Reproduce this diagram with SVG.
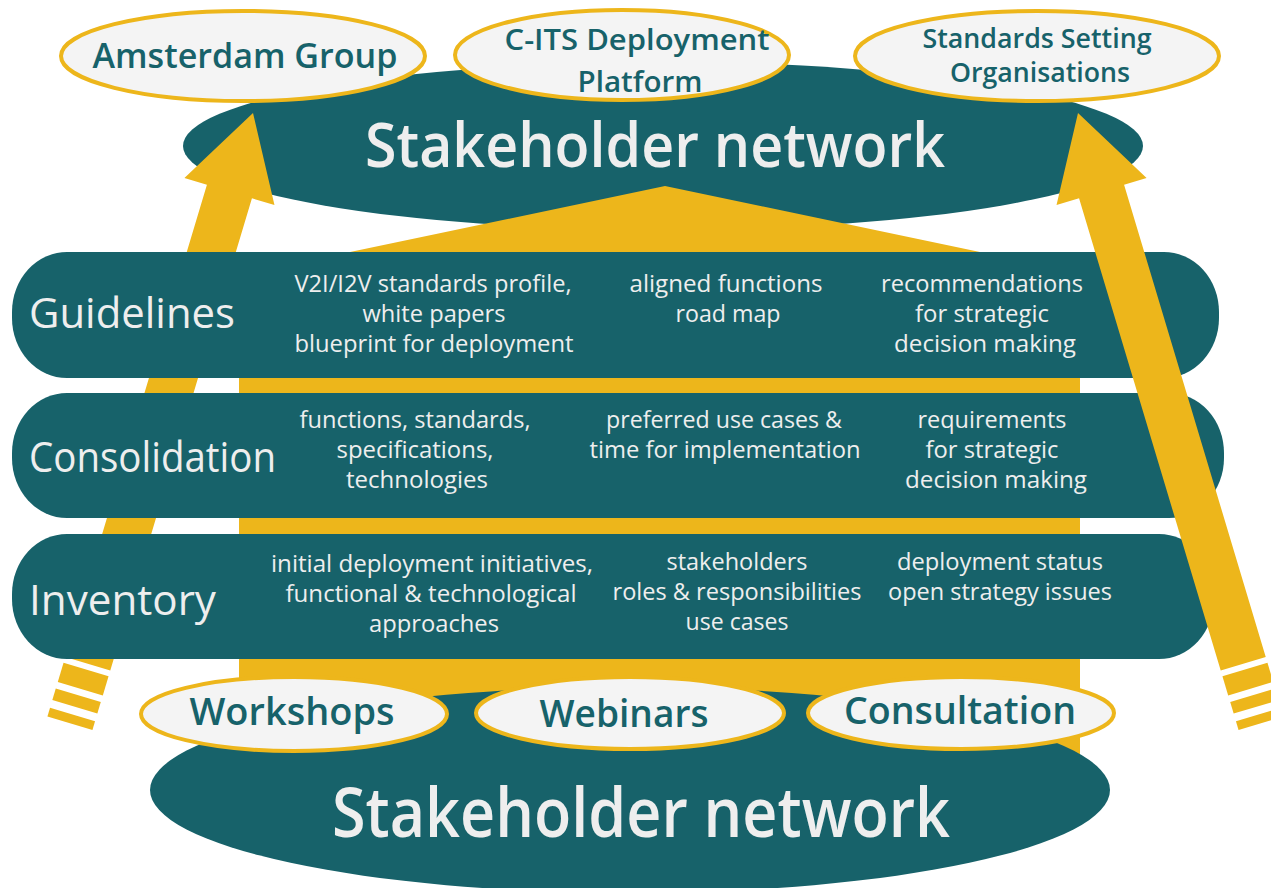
<svg xmlns="http://www.w3.org/2000/svg" xmlns:xlink="http://www.w3.org/1999/xlink" width="1271" height="888" viewBox="0 0 1271 888">
<style>
.teal{fill:#17626A}
.yel{fill:#EDB61B}
.pill{fill:#F4F4F4;stroke:#EDB61B;stroke-width:4}
.lbl{font-family:"Open Sans","Noto Sans","DejaVu Sans",sans-serif;font-weight:600;fill:#17626A;text-anchor:middle}
.big{font-family:"Open Sans","Noto Sans","DejaVu Sans",sans-serif;font-weight:600;fill:#EEEEEE;text-anchor:middle}
.band{font-family:"Open Sans","Noto Sans","DejaVu Sans",sans-serif;font-weight:400;fill:#EEEEEE;font-size:42px}
.txt{font-family:"Open Sans","Noto Sans","DejaVu Sans",sans-serif;font-weight:400;fill:#EEEEEE;font-size:23px;text-anchor:middle}
</style>
<defs>
<g id="bigArrow">
<path d="M0,0 L47,82 L23.5,82 L23.5,575 L-23.5,575 L-23.5,82 L-47,82 Z"/>
<rect x="-23.5" y="581" width="47" height="20"/>
<rect x="-23.5" y="608" width="47" height="12"/>
<rect x="-23.5" y="628" width="47" height="9"/>
</g>
</defs>
<rect width="1271" height="888" fill="#FFFFFF"/>

<g id="top-network">
<ellipse class="teal" cx="663" cy="146" rx="480" ry="84"/>
</g>

<g id="connectors">
<polygon id="center-arrow" class="yel" points="665,186 1123,282 1080,282 1080,765 239,765 239,282 207,282"/>
<use id="left-arrow" class="yel" xlink:href="#bigArrow" href="#bigArrow" transform="translate(253,113) rotate(16.7)"/>
</g>

<g id="guidelines">
<rect class="teal" x="12" y="252" width="1207" height="126" rx="55" ry="60"/>
<text class="band" x="29" y="328" textLength="206" lengthAdjust="spacingAndGlyphs">Guidelines</text>
<text class="txt" x="433" y="292" textLength="277" lengthAdjust="spacingAndGlyphs">V2I/I2V standards profile,</text>
<text class="txt" x="434" y="322" textLength="143" lengthAdjust="spacingAndGlyphs">white papers</text>
<text class="txt" x="434" y="352" textLength="279" lengthAdjust="spacingAndGlyphs">blueprint for deployment</text>
<text class="txt" x="726" y="292" textLength="193" lengthAdjust="spacingAndGlyphs">aligned functions</text>
<text class="txt" x="728" y="322" textLength="105" lengthAdjust="spacingAndGlyphs">road map</text>
<text class="txt" x="982" y="292" textLength="202" lengthAdjust="spacingAndGlyphs">recommendations</text>
<text class="txt" x="982" y="322" textLength="134" lengthAdjust="spacingAndGlyphs">for strategic</text>
<text class="txt" x="985" y="352" textLength="182" lengthAdjust="spacingAndGlyphs">decision making</text>
</g>

<g id="consolidation">
<rect class="teal" x="12" y="393" width="1212" height="125" rx="55" ry="60"/>
<text class="band" x="29" y="472" textLength="247" lengthAdjust="spacingAndGlyphs">Consolidation</text>
<text class="txt" x="415" y="428" textLength="231" lengthAdjust="spacingAndGlyphs">functions, standards,</text>
<text class="txt" x="415" y="458" textLength="157" lengthAdjust="spacingAndGlyphs">specifications,</text>
<text class="txt" x="417" y="488" textLength="142" lengthAdjust="spacingAndGlyphs">technologies</text>
<text class="txt" x="724" y="428" textLength="236" lengthAdjust="spacingAndGlyphs">preferred use cases &amp;</text>
<text class="txt" x="725" y="458" textLength="271" lengthAdjust="spacingAndGlyphs">time for implementation</text>
<text class="txt" x="992" y="428" textLength="149" lengthAdjust="spacingAndGlyphs">requirements</text>
<text class="txt" x="992" y="458" textLength="133" lengthAdjust="spacingAndGlyphs">for strategic</text>
<text class="txt" x="996" y="488" textLength="182" lengthAdjust="spacingAndGlyphs">decision making</text>
</g>

<g id="inventory">
<rect class="teal" x="12" y="534" width="1202" height="125" rx="55" ry="60"/>
<text class="band" x="29" y="615" textLength="187" lengthAdjust="spacingAndGlyphs">Inventory</text>
<text class="txt" x="432" y="572" textLength="322" lengthAdjust="spacingAndGlyphs">initial deployment initiatives,</text>
<text class="txt" x="431" y="602" textLength="291" lengthAdjust="spacingAndGlyphs">functional &amp; technological</text>
<text class="txt" x="434" y="632" textLength="130" lengthAdjust="spacingAndGlyphs">approaches</text>
<text class="txt" x="737" y="570" textLength="141" lengthAdjust="spacingAndGlyphs">stakeholders</text>
<text class="txt" x="737" y="600" textLength="249" lengthAdjust="spacingAndGlyphs">roles &amp; responsibilities</text>
<text class="txt" x="737" y="630" textLength="103" lengthAdjust="spacingAndGlyphs">use cases</text>
<text class="txt" x="1000" y="570" textLength="206" lengthAdjust="spacingAndGlyphs">deployment status</text>
<text class="txt" x="1000" y="600" textLength="224" lengthAdjust="spacingAndGlyphs">open strategy issues</text>
</g>

<g id="right-arrow-layer">
<use id="right-arrow" class="yel" xlink:href="#bigArrow" href="#bigArrow" transform="translate(1078,113) rotate(-16.7)"/>
</g>

<g id="top-network-label">
<text class="big" x="655" y="167" font-size="62" textLength="580" lengthAdjust="spacingAndGlyphs">Stakeholder network</text>
</g>

<g id="amsterdam-group">
<ellipse class="pill" cx="243" cy="56" rx="182" ry="45"/>
<text class="lbl" x="245" y="68" font-size="34" textLength="305" lengthAdjust="spacingAndGlyphs">Amsterdam Group</text>
</g>

<g id="c-its-platform">
<ellipse class="pill" cx="622" cy="55" rx="167" ry="45"/>
<text class="lbl" x="637" y="50" font-size="28" textLength="265" lengthAdjust="spacingAndGlyphs">C-ITS Deployment</text>
<text class="lbl" x="640" y="92" font-size="28" textLength="125" lengthAdjust="spacingAndGlyphs">Platform</text>
</g>

<g id="standards-setting">
<ellipse class="pill" cx="1037" cy="56" rx="182" ry="45"/>
<text class="lbl" x="1037" y="48" font-size="27" textLength="229" lengthAdjust="spacingAndGlyphs">Standards Setting</text>
<text class="lbl" x="1040" y="82" font-size="27" textLength="180" lengthAdjust="spacingAndGlyphs">Organisations</text>
</g>

<g id="bottom-network">
<ellipse class="teal" cx="630" cy="790" rx="480" ry="103"/>
<text class="big" x="641" y="837" font-size="68" textLength="618" lengthAdjust="spacingAndGlyphs">Stakeholder network</text>
</g>

<g id="workshops">
<ellipse class="pill" cx="294" cy="714" rx="153" ry="37"/>
<text class="lbl" x="292" y="725" font-size="37" textLength="205" lengthAdjust="spacingAndGlyphs">Workshops</text>
</g>

<g id="webinars">
<ellipse class="pill" cx="630" cy="713" rx="154" ry="36"/>
<text class="lbl" x="624" y="727" font-size="37" textLength="169" lengthAdjust="spacingAndGlyphs">Webinars</text>
</g>

<g id="consultation">
<ellipse class="pill" cx="961" cy="713" rx="153" ry="36"/>
<text class="lbl" x="960" y="724" font-size="37" textLength="232" lengthAdjust="spacingAndGlyphs">Consultation</text>
</g>
</svg>
